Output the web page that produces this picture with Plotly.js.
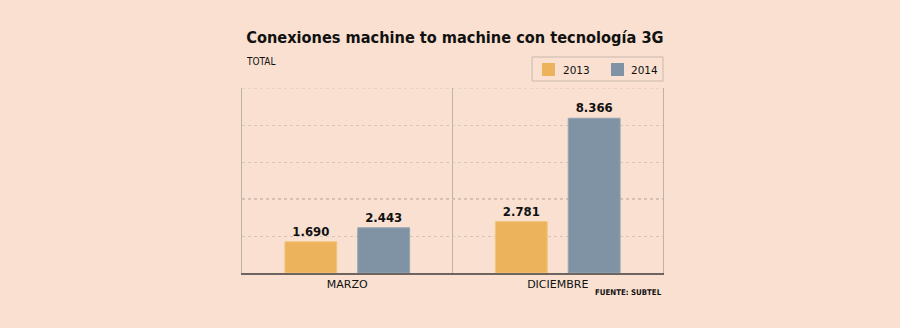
<!DOCTYPE html>
<html>
<head>
<meta charset="utf-8">
<script src="https://cdn.plot.ly/plotly-3.0.1.min.js"></script>
<style>
html,body{margin:0;padding:0;background:#F9E0D0;}
#chart{width:900px;height:328px;}
</style>
</head>
<body>
<div id="chart"></div>
<script>
const categories = ["MARZO", "DICIEMBRE"];
const series2013 = [1690, 2781];
const series2014 = [2443, 8366];
const seriesNames = ["2013", "2014"];
const seriesColors = ["#EDB35C", "#8093A4"];
const yTicks = [0, 2000, 4000, 6000, 8000, 10000];
const highlightLine = 4000;

const bg = "#F9E0D0";
const labelFont = {family: "DejaVu Sans Condensed, DejaVu Sans, sans-serif", size: 13, color: "#111", weight: "bold"};
const legendFont = {family: "DejaVu Sans, Verdana, sans-serif", size: 10.5, color: "#111"};

const traces = [
  {type: "bar", name: seriesNames[0], x: categories, y: series2013,
   marker: {color: seriesColors[0], line: {color: "#F2C67F", width: 1}},
   texttemplate: "<b>%{y:,}</b>", textposition: "outside", textfont: labelFont,
   cliponaxis: false, hoverinfo: "none", showlegend: false},
  {type: "bar", name: seriesNames[1], x: categories, y: series2014,
   marker: {color: seriesColors[1], line: {color: "#95A5B3", width: 1}},
   texttemplate: "<b>%{y:,}</b>", textposition: "outside", textfont: labelFont,
   cliponaxis: false, hoverinfo: "none", showlegend: false}
];

// manual legend (paper coordinates)
const legendShapes = [
  {type: "rect", xref: "paper", yref: "paper", x0: 0.689, x1: 1.0, y0: 1.0378, y1: 1.1676,
   line: {color: "#C9B8AD", width: 1}, fillcolor: bg},
  {type: "rect", xref: "paper", yref: "paper", x0: 0.7126, x1: 0.7435, y0: 1.065, y1: 1.135,
   line: {width: 0}, fillcolor: seriesColors[0]},
  {type: "rect", xref: "paper", yref: "paper", x0: 0.8765, x1: 0.9074, y0: 1.065, y1: 1.135,
   line: {width: 0}, fillcolor: seriesColors[1]}
];
const legendTexts = [
  {text: seriesNames[0], xref: "paper", yref: "paper", x: 0.7577, y: 1.097, xanchor: "left", yanchor: "middle",
   showarrow: false, font: legendFont},
  {text: seriesNames[1], xref: "paper", yref: "paper", x: 0.9192, y: 1.097, xanchor: "left", yanchor: "middle",
   showarrow: false, font: legendFont}
];

const layout = {
  width: 900, height: 328,
  paper_bgcolor: bg, plot_bgcolor: bg,
  separators: ",.",
  margin: {l: 242, r: 237, t: 88, b: 55},
  barmode: "group", bargap: 0.308, bargroupgap: 0.288,
  showlegend: false,
  title: {
    text: "<b>Conexiones machine to machine con tecnología 3G</b>",
    font: {family: "DejaVu Sans Condensed, DejaVu Sans, sans-serif", size: 16.2, color: "#111"},
    xref: "paper", x: 0.01, xanchor: "left",
    yref: "container", y: 0.885, yanchor: "middle"
  },
  xaxis: {
    type: "category", tickson: "boundaries",
    showgrid: true, gridcolor: "#BFB2AA", gridwidth: 1,
    showline: true, linecolor: "#6E6560", linewidth: 2,
    ticks: "", tickfont: {family: "DejaVu Sans, Verdana, sans-serif", size: 11, color: "#111"},
    fixedrange: true, zeroline: false
  },
  yaxis: {
    range: [0, 10000], tickvals: yTicks, showticklabels: false,
    showgrid: true, gridcolor: "#D9C3B5", griddash: "dot", gridwidth: 1,
    zeroline: false, showline: true, mirror: true, linecolor: "#BFB2AA", linewidth: 1,
    fixedrange: true
  },
  shapes: [
    {type: "line", xref: "paper", x0: 0, x1: 1, yref: "y", y0: highlightLine, y1: highlightLine,
     line: {color: "#A89C94", width: 1, dash: "dot"}, layer: "below"},
    {type: "line", xref: "paper", x0: 0, x1: 1, yref: "y", y0: yTicks[yTicks.length - 1], y1: yTicks[yTicks.length - 1],
     line: {color: "#D9C3B5", width: 1, dash: "dot"}, layer: "below"}
  ].concat(legendShapes),
  annotations: [
    {text: "TOTAL", xref: "paper", x: 0.005, xanchor: "left", yref: "paper", y: 1.145, yanchor: "middle",
     showarrow: false, font: {family: "DejaVu Sans Condensed, DejaVu Sans, sans-serif", size: 10, color: "#111"}},
    {text: "<b>FUENTE: SUBTEL</b>", xref: "paper", x: 1.003, xanchor: "right", yref: "paper", y: -0.105, yanchor: "middle",
     showarrow: false, font: {family: "DejaVu Sans Condensed, DejaVu Sans, sans-serif", size: 7.8, color: "#111"}}
  ].concat(legendTexts)
};

Plotly.newPlot("chart", traces, layout, {displayModeBar: false, staticPlot: true});
</script>
</body>
</html>
